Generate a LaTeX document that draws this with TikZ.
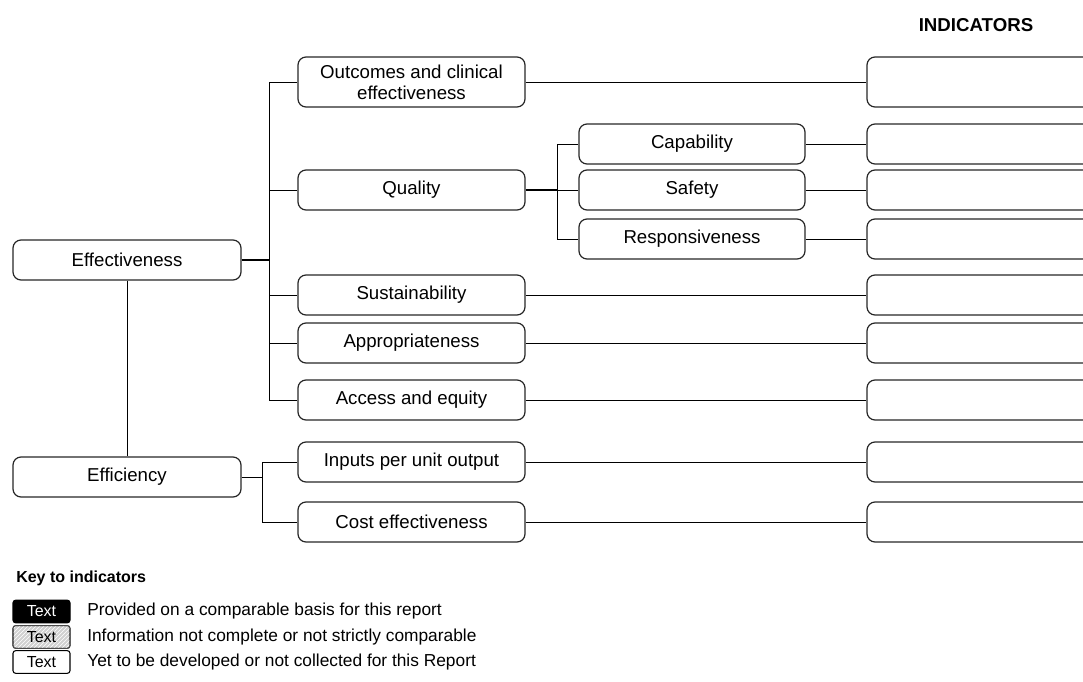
\documentclass[tikz,border=0pt]{standalone}
\usepackage{fontspec}
\setmainfont{Liberation Sans}
\usetikzlibrary{patterns}
\begin{document}
\begin{tikzpicture}[x=0.75pt,y=-0.75pt,
  box/.style={draw=black!85,line width=0.9pt,rounded corners=6pt,inner sep=0pt,align=center,
    minimum height=30pt,font=\fontsize{14}{16}\selectfont},
  lone/.style={box,minimum width=171pt},
  ltwo/.style={box,minimum width=170.25pt},
  lthree/.style={box,minimum width=169.5pt},
  ind/.style={box,minimum width=171pt},
  tall/.style={minimum height=37.5pt},
  conn/.style={line width=0.7pt},
  bold/.style={line width=1.4pt},
  keybox/.style={rounded corners=2pt,inner sep=0pt,minimum width=42.75pt,minimum height=17pt,
    line width=0.8pt,font=\fontsize{12}{14}\selectfont},
  keytext/.style={anchor=west,inner sep=0pt,font=\fontsize{13}{15}\selectfont}]
\useasboundingbox (0,0) rectangle (1083,682);
\clip (0,0) rectangle (1083,682);

\node[font=\bfseries\fontsize{14}{16}\selectfont] (title) at (976,25) {INDICATORS};

% level 1
\node[lone] (eff) at (127,260) {Effectiveness};
\node[lone] (effi) at (127,477) {Efficiency};

% level 2
\node[ltwo,tall] (oce) at (411.5,82) {Outcomes and clinical\\effectiveness};
\node[ltwo] (qua) at (411.5,190) {Quality};
\node[ltwo] (sus) at (411.5,295) {Sustainability};
\node[ltwo] (app) at (411.5,343) {Appropriateness};
\node[ltwo] (acc) at (411.5,400) {Access and equity};
\node[ltwo] (inp) at (411.5,462) {Inputs per unit output};
\node[ltwo] (cst) at (411.5,522) {Cost effectiveness};

% level 3
\node[lthree] (cap) at (692,144) {Capability};
\node[lthree] (saf) at (692,190) {Safety};
\node[lthree] (res) at (692,239) {Responsiveness};

% indicators
\node[ind,tall] (i1) at (981,82) {};
\node[ind] (i2) at (981,144) {};
\node[ind] (i3) at (981,190) {};
\node[ind] (i4) at (981,239) {};
\node[ind] (i5) at (981,295) {};
\node[ind] (i6) at (981,343) {};
\node[ind] (i7) at (981,400) {};
\node[ind] (i8) at (981,462) {};
\node[ind] (i9) at (981,522) {};

% buses
\coordinate (busE) at (269,260);
\coordinate (busF) at (262,477);
\coordinate (busQ) at (557,190);

\draw[conn] (eff.south) -- (effi.north);

\draw[bold] (eff.east) -- (busE);
\draw[conn] (oce.west -| busE) -- (acc.west -| busE);
\foreach \n in {oce,qua,sus,app,acc} \draw[conn] (\n.west -| busE) -- (\n.west);

\draw[conn] (effi.east) -- (busF);
\draw[conn] (inp.west -| busF) -- (cst.west -| busF);
\foreach \n in {inp,cst} \draw[conn] (\n.west -| busF) -- (\n.west);

\draw[bold] (qua.east) -- (busQ);
\draw[conn] (cap.west -| busQ) -- (res.west -| busQ);
\foreach \n in {cap,saf,res} \draw[conn] (\n.west -| busQ) -- (\n.west);

\draw[conn] (oce.east) -- (i1.west);
\draw[conn] (cap.east) -- (i2.west);
\draw[conn] (saf.east) -- (i3.west);
\draw[conn] (res.east) -- (i4.west);
\draw[conn] (sus.east) -- (i5.west);
\draw[conn] (app.east) -- (i6.west);
\draw[conn] (acc.east) -- (i7.west);
\draw[conn] (inp.east) -- (i8.west);
\draw[conn] (cst.east) -- (i9.west);

% key
\node[anchor=west,inner sep=0pt,font=\bfseries\fontsize{12}{14}\selectfont] (keyt) at (16,578) {Key to indicators};
\node[keybox,fill=black,draw=black,text=white] (k1) at (41.5,611.5) {Text};
\node[keybox,draw=black!70,fill=black!18] (k2bg) at (41.5,637) {};
\node[keybox,draw=black!70,pattern=north east lines,pattern color=white] (k2) at (41.5,637) {Text};
\node[keybox,draw=black] (k3) at (41.5,662) {Text};
\node[keytext] (t1) at (87,611.5) {Provided on a comparable basis for this report};
\node[keytext] (t2) at (87,637) {Information not complete or not strictly comparable};
\node[keytext] (t3) at (87,662) {Yet to be developed or not collected for this Report};
\end{tikzpicture}
\end{document}
